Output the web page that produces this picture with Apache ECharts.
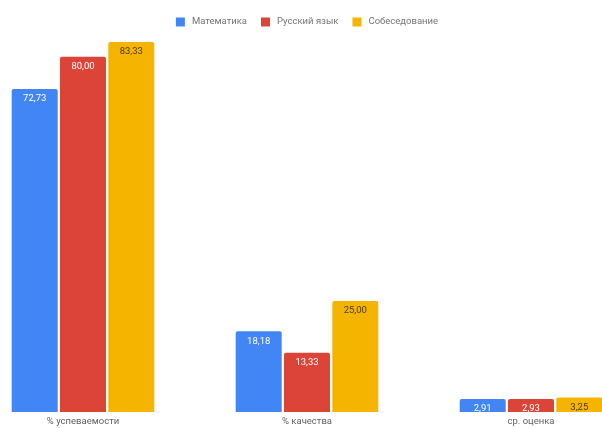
<!DOCTYPE html>
<html><head><meta charset="utf-8">
<script src="https://cdn.jsdelivr.net/npm/echarts@6/dist/echarts.min.js"></script>
<style>html,body{margin:0;padding:0;background:#fff;overflow:hidden;width:602px;height:428px;position:relative}#c{position:absolute;left:-29px;top:0;width:672px;height:428px}</style>
</head><body><div id="c"></div>
<script>
const categories = ['% успеваемости', '% качества', 'ср. оценка'];
const seriesNames = ['Математика', 'Русский язык', 'Собеседование'];
const math = [72.73, 18.18, 2.91];
const russian = [80.00, 13.33, 2.93];
const interview = [83.33, 25.00, 3.25];
const colors = ['#4285F4', '#DB4437', '#F4B400'];
const labelColors = ['#ffffff', '#ffffff', '#4a3a00'];
const values = [math, russian, interview];

const chart = echarts.init(document.getElementById('c'));
chart.setOption({
  animation: false,
  textStyle: { fontFamily: 'Roboto' },
  legend: {
    top: 12, left: 'center', itemWidth: 9, itemHeight: 9, itemGap: 14,
    icon: 'rect',
    textStyle: { color: '#757575', fontSize: 9.5, fontFamily: 'Roboto', padding: [0, 0, 0, 2] },
    data: seriesNames
  },
  grid: { left: 0, right: 0, top: 42, bottom: 16, containLabel: false },
  xAxis: {
    type: 'category', data: categories,
    axisLine: { show: false }, axisTick: { show: false },
    axisLabel: { color: '#616161', fontSize: 9.5, margin: 5, fontFamily: 'Roboto' }
  },
  yAxis: { type: 'value', min: 0, max: 'dataMax', show: false, splitLine: { show: false } },
  series: seriesNames.map((n, i) => ({
    name: n, type: 'bar', data: values[i],
    barWidth: 46, barGap: '5%',
    itemStyle: { color: colors[i], borderRadius: [2, 2, 0, 0] },
    label: {
      show: true, position: 'insideTop', distance: 5,
      color: labelColors[i], fontSize: 9.5, fontFamily: 'Roboto',
      formatter: p => p.value.toFixed(2).replace('.', ',')
    }
  }))
});
</script></body></html>
